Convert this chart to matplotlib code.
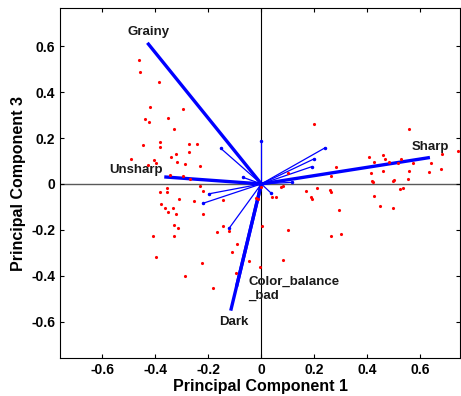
import matplotlib
matplotlib.use("Agg")
import matplotlib.pyplot as plt
import numpy as np

plt.rcParams["font.family"] = ["Liberation Sans", "DejaVu Sans"]
plt.rcParams["font.weight"] = "bold"

# labelled (thick) loading vectors
labelled_names = ["Grainy", "Unsharp", "Sharp", "Dark", "Color_balance\n_bad"]
labelled_pc1 = [-0.426, -0.360, 0.630, -0.114, -0.092]
labelled_pc3 = [0.609, 0.030, 0.114, -0.545, -0.440]

# unlabelled (thin) loading vectors
thin_pc1 = [0.000, -0.153, 0.240, 0.197, 0.190, 0.117, -0.070, -0.197, -0.219, 0.035, -0.122]
thin_pc3 = [0.187, 0.155, 0.157, 0.108, 0.075, 0.007, 0.029, -0.043, -0.084, -0.038, -0.194]

# observation scores
score_pc1 = [
    -0.460, -0.458, -0.385, -0.420, -0.294, -0.438, -0.423, -0.351, -0.328, -0.445,
    -0.382, -0.381, -0.274, -0.244, -0.272, -0.322, -0.342, -0.492, -0.405, -0.429,
    -0.396, -0.319, -0.287, -0.230, -0.345, -0.294, -0.269, -0.231, -0.382, -0.357,
    -0.355, -0.219, -0.309, -0.378, -0.362, -0.332, -0.351, -0.322, -0.253, -0.146,
    -0.219, -0.328, -0.313, -0.408, -0.329, -0.143, -0.166, -0.121, -0.093, -0.111,
    -0.397, -0.225, -0.046, -0.005, -0.095, -0.287, -0.183, 0.003, -0.021, -0.011,
    -0.002, 0.042, 0.055, 0.073, 0.081, 0.167, 0.189, 0.192, 0.209, 0.259,
    0.262, 0.293, 0.418, 0.420, 0.499, 0.497, 0.426, 0.448, 0.496, 0.525,
    0.534, 0.102, 0.263, 0.301, 0.081, 0.199, 0.558, 0.741, 0.406, 0.460,
    0.467, 0.425, 0.282, 0.482, 0.526, 0.516, 0.571, 0.683, 0.640, 0.262,
    0.414, 0.458, 0.557, 0.634, 0.679, 0.555, 0.100,
]
score_pc3 = [
    0.539, 0.486, 0.443, 0.335, 0.325, 0.284, 0.271, 0.287, 0.240, 0.170,
    0.183, 0.162, 0.175, 0.174, 0.140, 0.129, 0.119, 0.109, 0.106, 0.084,
    0.090, 0.094, 0.086, 0.077, 0.039, 0.035, 0.020, -0.010, -0.035, -0.016,
    -0.037, -0.030, -0.067, -0.087, -0.104, -0.104, -0.123, -0.132, -0.074, -0.070,
    -0.133, -0.181, -0.194, -0.225, -0.225, -0.183, -0.210, -0.204, -0.262, -0.297,
    -0.320, -0.343, -0.335, -0.363, -0.386, -0.401, -0.453, -0.183, -0.063, -0.064,
    -0.012, -0.058, -0.058, -0.012, -0.009, -0.033, -0.055, -0.064, -0.019, -0.028,
    -0.036, -0.112, 0.014, 0.008, 0.016, 0.011, -0.051, -0.096, -0.103, -0.020,
    -0.016, -0.199, -0.226, -0.217, -0.333, 0.261, 0.239, 0.143, 0.119, 0.127,
    0.110, 0.094, 0.074, 0.094, 0.109, 0.090, 0.093, 0.129, 0.090, 0.036,
    0.049, 0.058, 0.055, 0.051, 0.064, 0.023, 0.049,
]

ticks = [-0.6, -0.4, -0.2, 0, 0.2, 0.4, 0.6]
tick_labels = ["-0.6", "-0.4", "-0.2", "0", "0.2", "0.4", "0.6"]

fig = plt.figure(figsize=(4.61, 3.96), dpi=100)
ax = fig.add_axes([0.130, 0.095, 0.868, 0.884])

ax.axhline(0, color="0.35", linewidth=1.0, zorder=1)
ax.axvline(0, color="k", linewidth=0.8, zorder=1)

for x, y in zip(thin_pc1, thin_pc3):
    ax.plot([0, x], [0, y], color="blue", linewidth=0.9, zorder=2)
    ax.plot(x, y, ".", color="blue", markersize=3, zorder=2)

for x, y in zip(labelled_pc1, labelled_pc3):
    ax.plot([0, x], [0, y], color="blue", linewidth=2.4, zorder=3)

ax.plot(score_pc1, score_pc3, ".", color="red", markersize=2.5, zorder=4)

label_kw = dict(fontsize=9.5, fontweight="bold", color="#1a1a1a")
ax.text(-0.427, 0.661, "Grainy", ha="center", va="center", **label_kw)
ax.text(-0.371, 0.061, "Unsharp", ha="right", va="center", **label_kw)
ax.text(0.568, 0.161, "Sharp", ha="left", va="center", **label_kw)
ax.text(-0.160, -0.600, "Dark", ha="left", va="center", **label_kw)
ax.text(-0.050, -0.457, labelled_names[4], ha="left", va="center",
        linespacing=1.2, **label_kw)

ax.set_xlim(-0.76, 0.75)
ax.set_ylim(-0.76, 0.765)
ax.set_xticks(ticks)
ax.set_xticklabels(tick_labels)
ax.set_yticks(ticks)
ax.set_yticklabels(tick_labels)
ax.tick_params(direction="in", top=True, right=True, length=3,
               labelsize=10, width=0.8)
for lab in ax.get_xticklabels() + ax.get_yticklabels():
    lab.set_fontweight("bold")
ax.set_xlabel("Principal Component 1", fontsize=11.5, fontweight="bold", labelpad=1)
ax.set_ylabel("Principal Component 3", fontsize=11.5, fontweight="bold", labelpad=4)

fig.savefig("out.png", dpi=100)
